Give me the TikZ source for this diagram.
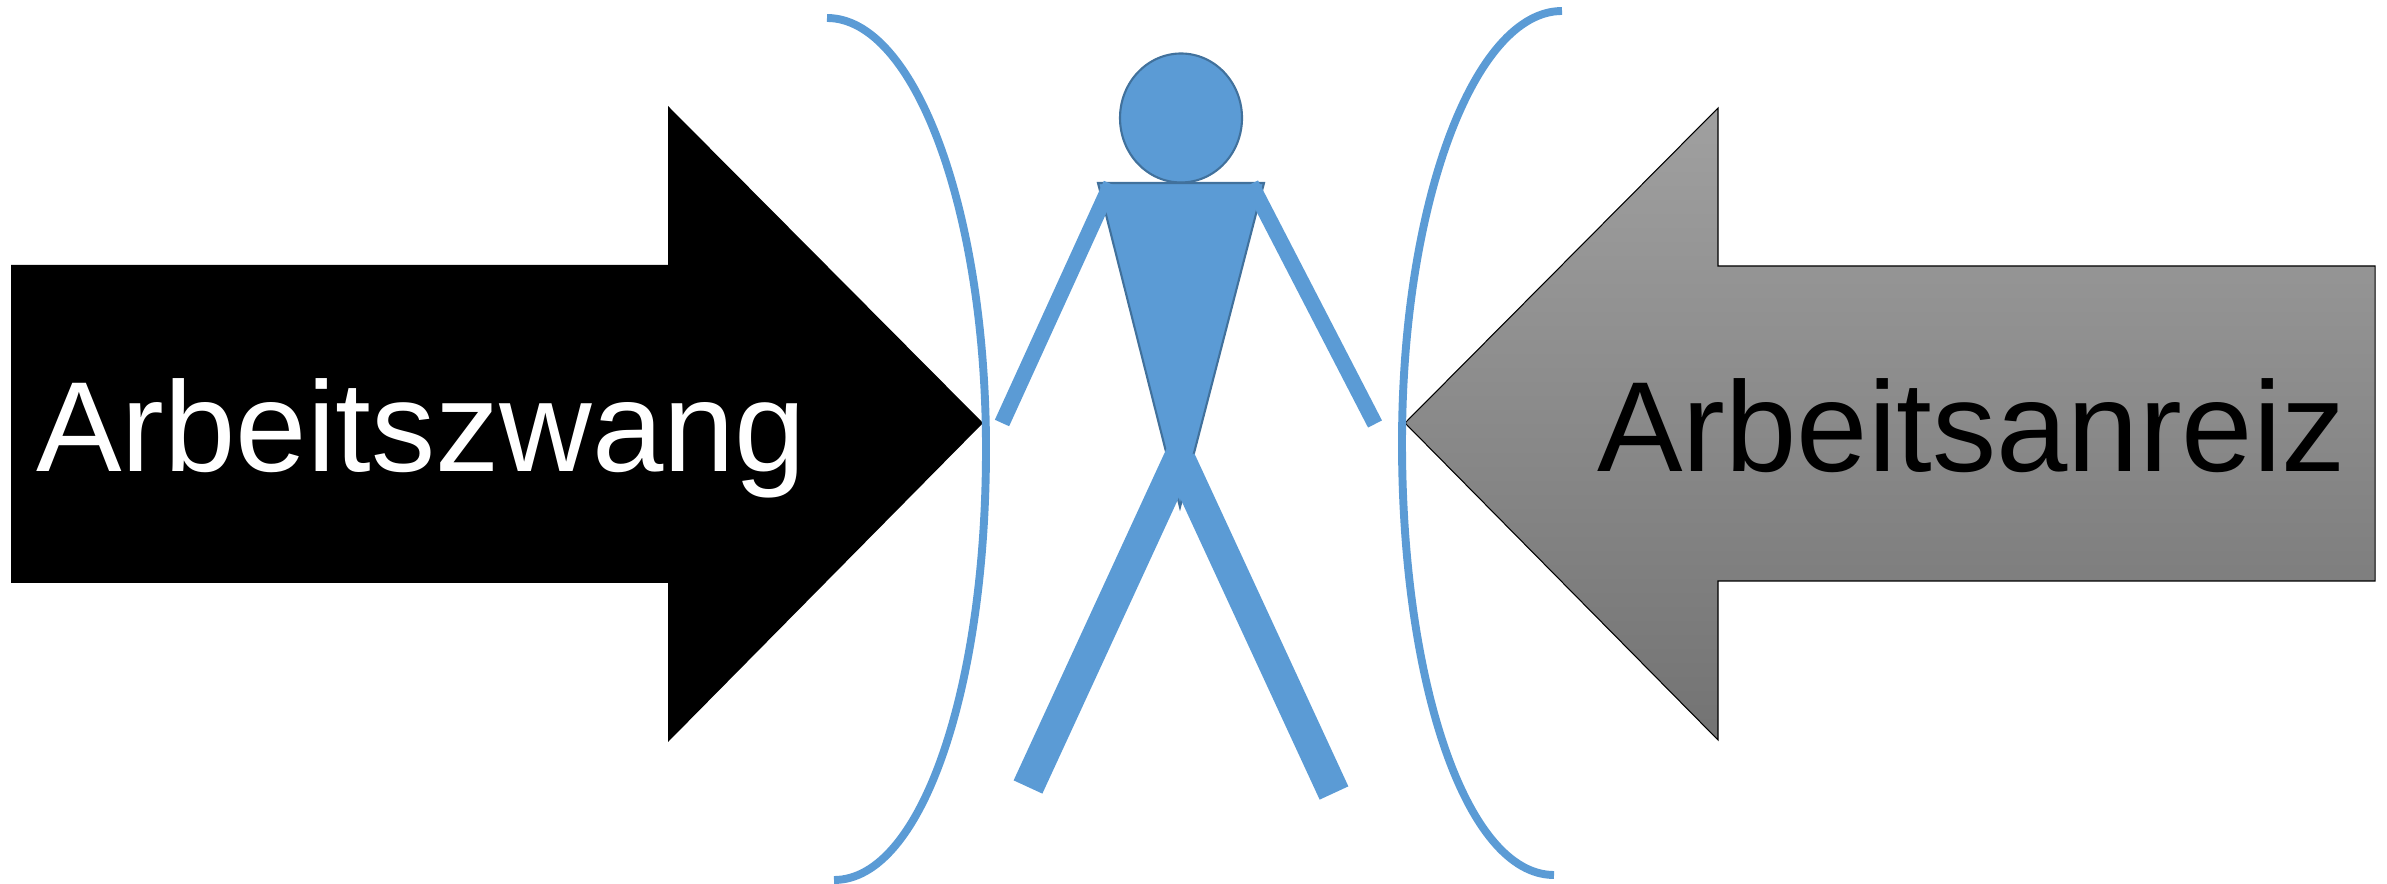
\documentclass[tikz,border=0pt]{standalone}
\usepackage{fontspec}
\setmainfont{Liberation Sans}
\usepackage{xcolor}
\definecolor{FigureBlue}{HTML}{5B9BD5}
\definecolor{FigureEdge}{HTML}{41719C}
\definecolor{ArrowTop}{HTML}{A0A0A0}
\definecolor{ArrowBottom}{HTML}{737373}
\tikzset{
  bigtext/.style={anchor=base west,inner sep=0pt,font=\fontsize{73}{80}\selectfont},
  bodypart/.style={draw=FigureEdge,fill=FigureBlue,line width=1.2pt},
  limb/.style={draw=FigureBlue,line cap=butt},
  bracket/.style={draw=FigureBlue,line width=4.5pt}
}

\begin{document}
\begin{tikzpicture}[x=0.02cm,y=-0.02cm]
  \useasboundingbox (0,0) rectangle (2387,884);
  % arrows
  \fill[black] (11,265) -- (668,265) -- (668,106) -- (983,423) -- (668,742) -- (668,583) -- (11,583) -- cycle;
  \draw[draw=black,line width=0.6pt,top color=ArrowTop,bottom color=ArrowBottom] (2375,266) -- (1718,266) -- (1718,108) -- (1405,423) -- (1718,740) -- (1718,581) -- (2375,581) -- cycle;
  \node[bigtext,text=white] (zwang) at (36,472) {Arbeitszwang};
  \node[bigtext,text=black] (anreiz) at (1597,472) {Arbeitsanreiz};
  % person
  \draw[bodypart] (1181,118) ellipse (61 and 64.5);
  \draw[bodypart] (1098,183) -- (1264,183) -- (1180,507) -- cycle;
  \draw[limb,line width=8.9pt] (1111,184) -- (1002,423);
  \draw[limb,line width=8.9pt] (1251,184) -- (1375,424);
  \draw[limb,line width=18pt] (1181,455) -- (1028,787);
  \draw[limb,line width=18pt] (1180,460) -- (1334,793);
  % brackets
  \draw[bracket] (827,18) .. controls (915,18) and (986,211) .. (986,449) .. controls (986,687) and (922,880) .. (834,880);
  \draw[bracket] (1562,11) .. controls (1474,11) and (1402,204) .. (1402,443) .. controls (1402,682) and (1466,875) .. (1554,875);
\end{tikzpicture}
\end{document}
